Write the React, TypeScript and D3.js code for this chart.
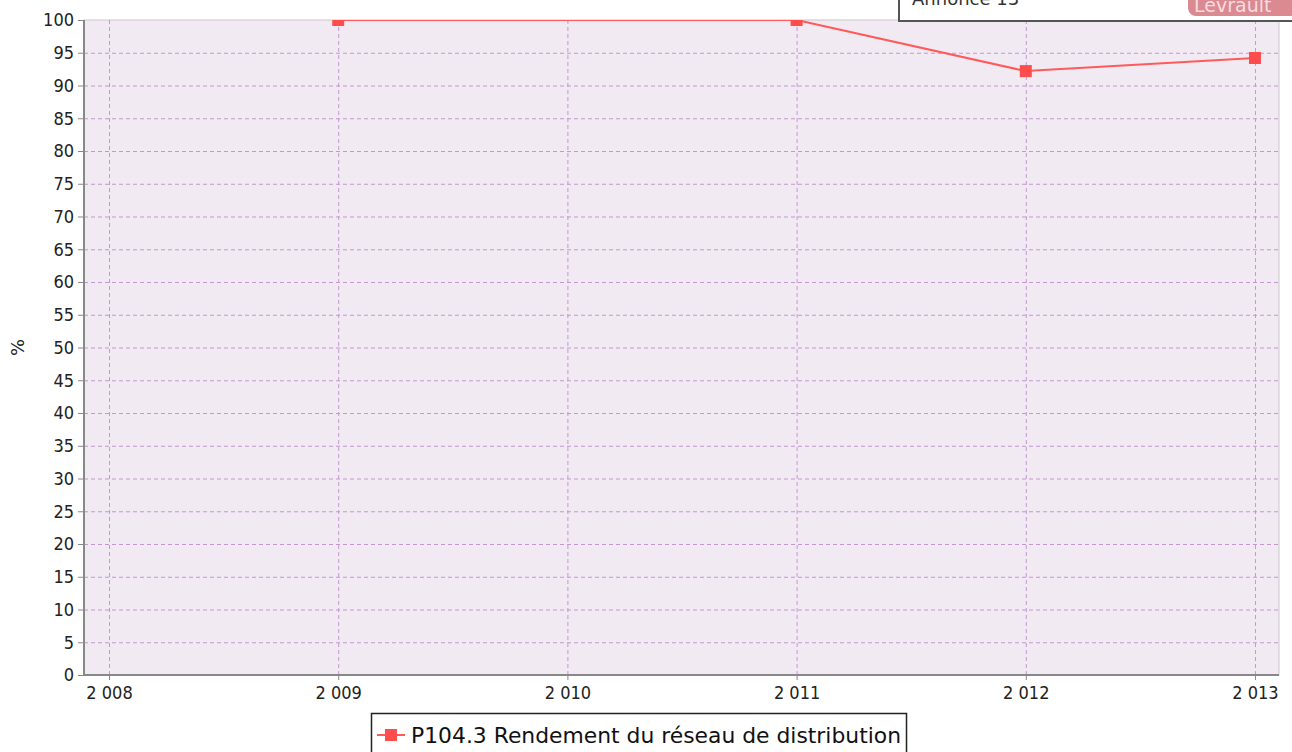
import * as d3 from 'd3';
import React, { useEffect, useRef } from 'react';

const years = [2009, 2011, 2012, 2013];
const values = [100, 100, 92.2, 94.2];
const xTicks = [2008, 2009, 2010, 2011, 2012, 2013];
const yTicks = d3.range(0, 101, 5);
const seriesName = 'P104.3 Rendement du réseau de distribution';

const W = 1292;
const H = 752;
const margin = { top: 20, right: 13, bottom: 77, left: 84 };

const App: React.FC = () => {
  const ref = useRef<SVGSVGElement | null>(null);

  useEffect(() => {
    const svg = d3.select(ref.current);
    svg.selectAll('*').remove();
    const iw = W - margin.left - margin.right;
    const ih = H - margin.top - margin.bottom;
    const x = d3.scaleLinear().domain([2008 - 25 / 229, 2013 + 24 / 229]).range([0, iw]);
    const y = d3.scaleLinear().domain([0, 100]).range([ih, 0]);

    svg.append('defs').append('clipPath').attr('id', 'plotclip')
      .append('rect').attr('width', iw).attr('height', ih);

    const g = svg.append('g').attr('transform', `translate(${margin.left},${margin.top})`);
    g.append('rect').attr('width', iw).attr('height', ih).attr('fill', '#f2eaf3')
      .attr('stroke', '#c8c8c8').attr('stroke-width', 1);

    // grid
    g.selectAll('.hg').data(yTicks.filter(t => t > 0 && t < 100)).enter().append('line')
      .attr('x1', 0).attr('x2', iw).attr('y1', d => y(d) + 0.5).attr('y2', d => y(d) + 0.5)
      .attr('stroke', '#c497d0').attr('stroke-dasharray', '4,3');
    g.selectAll('.vg').data(xTicks).enter().append('line')
      .attr('y1', 0).attr('y2', ih).attr('x1', d => x(d) + 0.5).attr('x2', d => x(d) + 0.5)
      .attr('stroke', '#c497d0').attr('stroke-dasharray', '4,3');

    // axes
    const yAxis = g.append('g').call(d3.axisLeft(y).tickValues(yTicks).tickSize(6).tickPadding(4));
    const xAxis = g.append('g').attr('transform', `translate(0,${ih})`)
      .call(d3.axisBottom(x).tickValues(xTicks).tickSize(5).tickPadding(6)
        .tickFormat(d => { const s = String(d); return s[0] + ' ' + s.slice(1); }));
    [yAxis, xAxis].forEach(a => {
      a.select('.domain').attr('stroke', '#888').attr('stroke-width', 2);
      a.selectAll('.tick line').attr('stroke', '#888');
      a.selectAll('.tick text').attr('fill', '#222').attr('font-size', 18)
        .attr('font-family', 'DejaVu Sans Condensed, DejaVu Sans');
    });
    yAxis.select('.domain').attr('d', `M0,${ih + 1}V0`);
    xAxis.select('.domain').attr('d', `M0,0H${iw}`);

    svg.append('text').attr('transform', `translate(24,${margin.top + ih / 2}) rotate(-90)`)
      .attr('text-anchor', 'middle').attr('font-size', 18).attr('fill', '#222')
      .attr('font-family', 'DejaVu Sans').text('%');

    // series
    const pts = years.map((yr, i) => ({ yr, v: values[i] }));
    const plot = g.append('g').attr('clip-path', 'url(#plotclip)');
    plot.append('path').datum(pts)
      .attr('d', d3.line<{ yr: number; v: number }>().x(d => x(d.yr)).y(d => y(d.v)))
      .attr('fill', 'none').attr('stroke', '#ff5a5a').attr('stroke-width', 2);
    plot.selectAll('.pt').data(pts).enter().append('rect')
      .attr('x', d => x(d.yr) - 6).attr('y', d => y(d.v) - 6)
      .attr('width', 12).attr('height', 12).attr('fill', '#ff4d4d');

    // legend
    const lg = svg.append('g').attr('transform', 'translate(371,713)');
    lg.append('rect').attr('x', 0.5).attr('y', 0.5).attr('width', 535).attr('height', 50)
      .attr('fill', '#fff').attr('stroke', '#222').attr('stroke-width', 1.5);
    lg.append('line').attr('x1', 6).attr('x2', 34).attr('y1', 22).attr('y2', 22)
      .attr('stroke', '#ff5a5a').attr('stroke-width', 2);
    lg.append('rect').attr('x', 14).attr('y', 16).attr('width', 12).attr('height', 12).attr('fill', '#ff4d4d');
    lg.append('text').attr('x', 40).attr('y', 30).attr('font-size', 21.5).attr('fill', '#111')
      .attr('font-family', 'DejaVu Sans').attr('textLength', 490).attr('lengthAdjust', 'spacingAndGlyphs')
      .text(seriesName);

    // overlay ad box at top right
    const ad = svg.append('g');
    ad.append('rect').attr('x', 899).attr('y', -10).attr('width', 400).attr('height', 31)
      .attr('fill', '#fff').attr('stroke', '#555').attr('stroke-width', 2);
    ad.append('text').attr('x', 912).attr('y', 5).attr('font-size', 18).attr('fill', '#333')
      .attr('font-family', 'DejaVu Sans').text('Annonce 13');
    ad.append('rect').attr('x', 1188).attr('y', -10).attr('width', 110).attr('height', 26).attr('rx', 8)
      .attr('fill', '#db8a92');
    ad.append('text').attr('x', 1194).attr('y', 12).attr('font-size', 19).attr('fill', '#f5dde0')
      .attr('font-family', 'DejaVu Sans').text('Levrault');
  }, []);

  return <svg ref={ref} width={W} height={H} style={{ position: 'absolute', left: 0, top: 0 }} />;
};

export default App;
